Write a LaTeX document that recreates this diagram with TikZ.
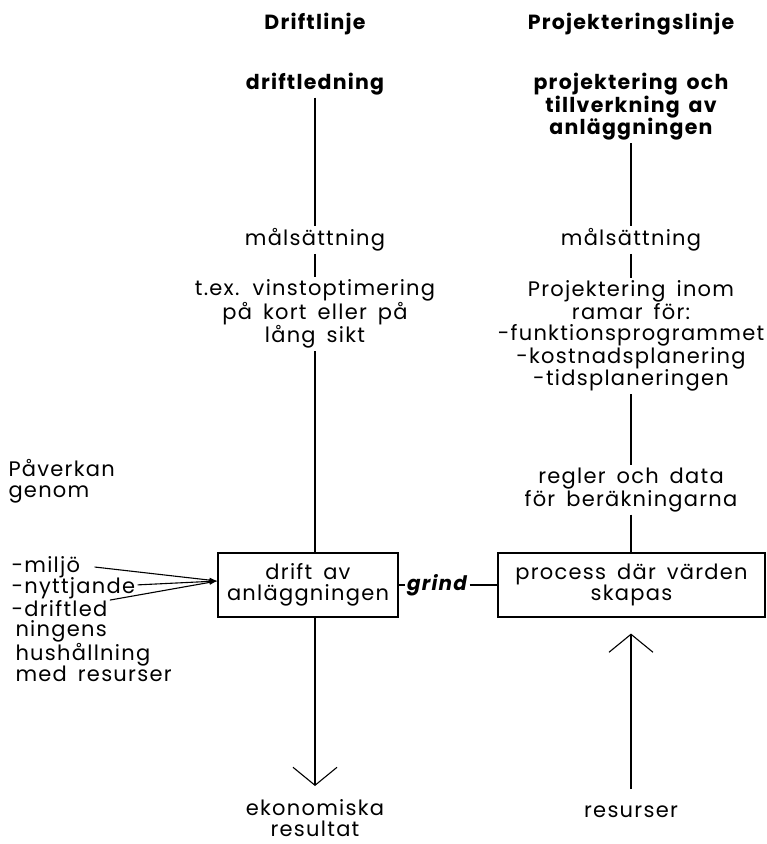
\documentclass[tikz,border=0pt]{standalone}
\usepackage{fontspec}
\setmainfont{Poppins}[LetterSpace=6,WordSpace=1.6]
\usetikzlibrary{arrows.meta,positioning}

\begin{document}
\begin{tikzpicture}
	[x=1pt,y=-1pt,line width=1.1pt,
	every node/.style={font=\fontsize{21}{21.3}\selectfont,align=center,inner sep=2pt},
	title/.style={font=\fontsize{20.5}{22.5}\selectfont\bfseries},
	ruta/.style={draw,minimum height=64pt,inner sep=2pt},
	vag/.style={-{Straight Barb[length=18pt,width=44pt,line width=1.1pt]}},
	pil/.style={-{Latex[length=8pt,width=5pt]}}]
	\useasboundingbox (0,0) rectangle (767,844);
	\node (driftlinje) at (315,24) [title] {Driftlinje};
	\node (projlinje) at (631,24) [title] {Projekteringslinje};
	\node (driftledning) at (315,84) [title] {driftledning};
	\node (projektering) at (631,107) [title] {projektering och\\tillverkning av\\anläggningen};
	\node (malL) at (315,240) {målsättning};
	\node (malR) at (631,240) {målsättning};
	\node (vinst) at (315,314) {t.ex. vinstoptimering\\på kort eller på\\lång sikt};
	\node (ramar) at (631,336) {Projektering inom\\ramar för:\\-funktionsprogrammet\\-kostnadsplanering\\-tidsplaneringen};
	\node (regler) at (631,490) {regler och data\\för beräkningarna};
	\node (drift) at (308,585) [ruta,minimum width=180pt] {drift av\\anläggningen};
	\node (process) at (631.5,585) [ruta,minimum width=267pt] {process där värden\\skapas};
	\node (grind) at (437,585) [font=\fontsize{20}{21}\selectfont\bfseries\itshape] {grind};
	\node (paverkan) at (6,481) [anchor=west,align=left] {Påverkan\\genom};
	\node (miljo) at (9,567) [anchor=west] {-miljö};
	\node (nyttjande) at (9,588) [anchor=west] {-nyttjande};
	\node (driftled) at (9,609) [anchor=west] {-driftled};
	\node (hushall) at (13,651) [anchor=west,align=left] {ningens\\hushållning\\med resurser};
	\node (ekon) at (315,818) {ekonomiska\\resultat};
	\node (resurser) at (631,812) {resurser};
	\coordinate (ekonpil) at (315,786);
	\coordinate (resurspil) at (631,789);

	\draw (driftledning) -- (malL);
	\draw (malL) -- (vinst);
	\draw (vinst) -- (vinst |- drift.north);
	\draw[vag] (vinst |- drift.south) -- (ekonpil);
	\draw (projektering) -- (malR);
	\draw (malR) -- (ramar);
	\draw (ramar) -- (regler);
	\draw (regler) -- (regler |- process.north);
	\draw[vag,shorten >=16pt] (resurspil) -- (resurspil |- process.south);
	\draw (drift) -- (grind);
	\draw (grind) -- (process);
	\draw[pil] ([xshift=12pt]miljo.east) -- ([yshift=4pt]drift.west);
	\draw[pil] (nyttjande) -- ([yshift=4pt]drift.west);
	\draw[pil] (driftled) -- ([yshift=4pt]drift.west);
\end{tikzpicture}
\end{document}
